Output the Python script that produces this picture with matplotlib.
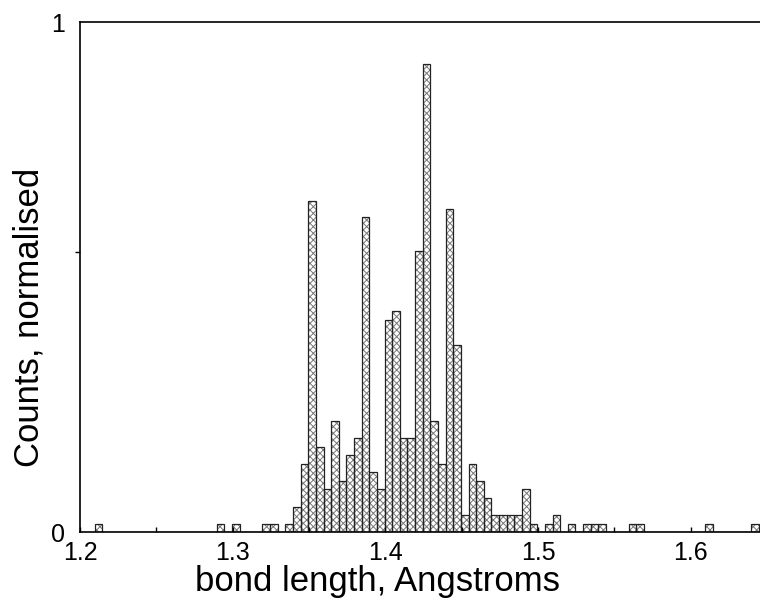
import numpy as np
import matplotlib
matplotlib.use("Agg")
import matplotlib.pyplot as plt

plt.rcParams["font.family"] = ["Liberation Sans", "DejaVu Sans"]
plt.rcParams["hatch.linewidth"] = 0.7

# histogram of bond lengths, bins of 0.005 A starting at 1.2095
bin_start = 1.2095
bin_width = 0.005
heights = [
    0.017, 0, 0, 0, 0, 0, 0, 0, 0, 0,
    0, 0, 0, 0, 0, 0, 0.017, 0, 0.017, 0,
    0, 0, 0.017, 0.017, 0, 0.017, 0.050, 0.134, 0.650, 0.168,
    0.084, 0.218, 0.101, 0.151, 0.185, 0.617, 0.118, 0.084, 0.417, 0.434,
    0.185, 0.185, 0.552, 0.918, 0.218, 0.134, 0.633, 0.368, 0.034, 0.134,
    0.101, 0.067, 0.034, 0.034, 0.034, 0.034, 0.084, 0.017, 0, 0.017,
    0.034, 0, 0.017, 0, 0.017, 0.017, 0.017, 0, 0, 0,
    0.017, 0.017, 0, 0, 0, 0, 0, 0, 0, 0,
    0.017, 0, 0, 0, 0, 0, 0.017,
]
xticks = [1.2, 1.3, 1.4, 1.5, 1.6]
xminor = [1.25, 1.35, 1.45, 1.55]

edges = bin_start + bin_width * np.arange(len(heights))

fig = plt.figure(figsize=(7.6, 6.06), dpi=100)
ax = fig.add_axes([80 / 760, 73.7 / 606, 680 / 760, 510.3 / 606])

# hatch in grey, outline in dark grey/black
ax.bar(edges, heights, width=bin_width, align="edge", facecolor="white",
       edgecolor="#777777", hatch="xxxxx", linewidth=0)
ax.bar(edges, heights, width=bin_width, align="edge", fill=False,
       edgecolor="#222222", linewidth=0.9)

ax.set_xlim(1.2, 1.6454)
ax.set_ylim(0, 1)

ax.spines["right"].set_visible(False)
for s in ["left", "top", "bottom"]:
    ax.spines[s].set_linewidth(1.2)

ax.set_xticks(xticks)
ax.set_xticklabels([str(v) for v in xticks])
ax.set_xticks(xminor, minor=True)
ax.tick_params(axis="x", which="both", direction="in", length=3.5, width=1,
               labelsize=18, pad=6)

ax.set_yticks([0, 1])
ax.set_yticklabels(["0", "1"])
ax.set_yticks([0.55], minor=True)
ax.tick_params(axis="y", which="major", length=0, labelsize=18, pad=11)
ax.tick_params(axis="y", which="minor", direction="out", length=3.5, width=1)

ax.set_xlabel("bond length, Angstroms", fontsize=25, labelpad=0)
ax.xaxis.set_label_coords(0.438, -0.064)
ax.set_ylabel("Counts, normalised", fontsize=25)
ax.yaxis.set_label_coords(-0.05, 0.422)

fig.savefig("out.png", dpi=100)
